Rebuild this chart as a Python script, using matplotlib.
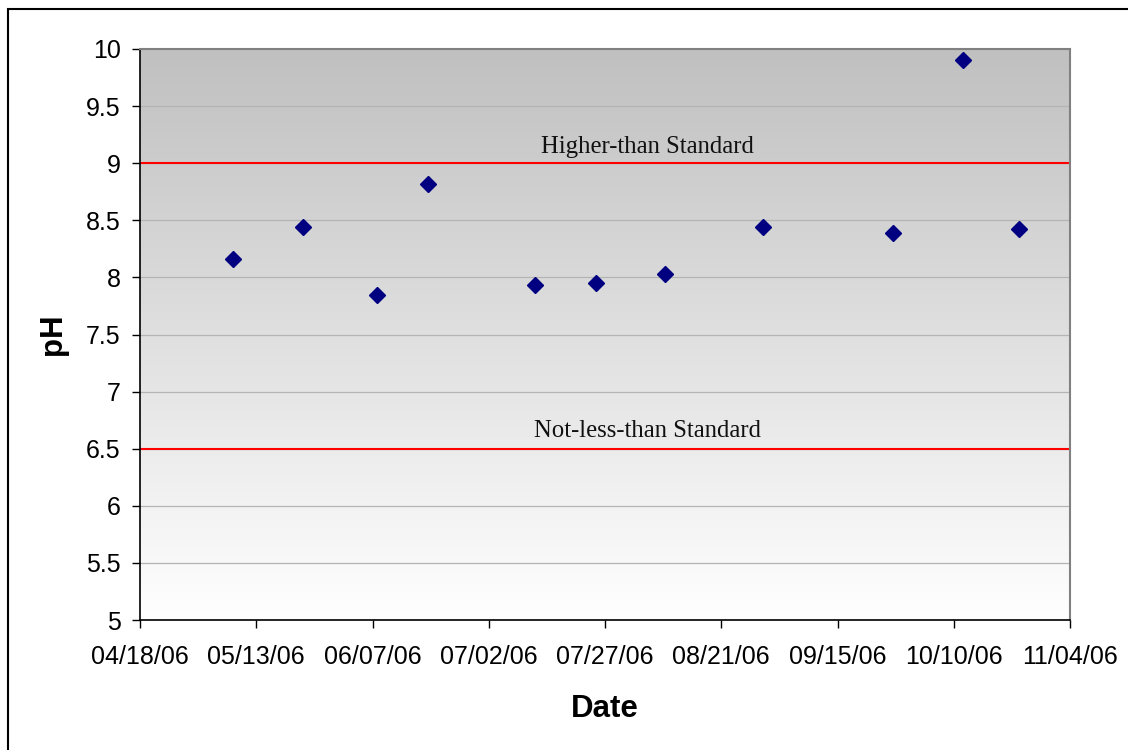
import numpy as np
import matplotlib
matplotlib.use("Agg")
import matplotlib.pyplot as plt
import matplotlib.dates as mdates
from matplotlib.patches import Rectangle
from datetime import datetime, timedelta

# Sample dates and pH readings
sample_dates = ["2006-05-08", "2006-05-23", "2006-06-08", "2006-06-19",
                "2006-07-12", "2006-07-25", "2006-08-09", "2006-08-30",
                "2006-09-27", "2006-10-12", "2006-10-24"]
ph_values = [8.16, 8.44, 7.85, 8.82, 7.93, 7.95, 8.03, 8.44, 8.39, 9.90, 8.42]

# Standards
upper_standard = 9.0
lower_standard = 6.5
upper_label = "Higher-than Standard"
lower_label = "Not-less-than Standard"

x_start = datetime(2006, 4, 18)
x_end = datetime(2006, 11, 4)
tick_step_days = 25
y_ticks = [5, 5.5, 6, 6.5, 7, 7.5, 8, 8.5, 9, 9.5, 10]

plt.rcParams['font.family'] = ['Liberation Sans', 'DejaVu Sans']

fig = plt.figure(figsize=(11.28, 7.5), dpi=100)
fig.patch.set_facecolor("white")

# Outer chart frame
fig.patches.append(Rectangle((8 / 1128, -0.05), 1.2, 1 - 9 / 750 + 0.05,
                             transform=fig.transFigure, fill=False,
                             edgecolor="black", linewidth=1.5, zorder=0))

ax = fig.add_axes([140 / 1128, 1 - 620 / 750, 930 / 1128, 571 / 750])

dates = [datetime.strptime(d, "%Y-%m-%d") for d in sample_dates]
x0 = mdates.date2num(x_start)
x1 = mdates.date2num(x_end)

# Vertical gradient: white at the bottom, gray at the top
grad = np.linspace(255, 192, 256).reshape(-1, 1) / 255.0
grad_img = np.dstack([grad, grad, grad])
ax.imshow(grad_img, extent=[x0, x1, 5, 10], origin="lower",
          aspect="auto", zorder=0, interpolation="bilinear")

# Horizontal gridlines
for yv in y_ticks:
    ax.axhline(yv, color="#b4b4b4", linewidth=0.9, zorder=1)

# Standard lines and their labels
ax.axhline(upper_standard, color="#ff0000", linewidth=1.5, zorder=2)
ax.axhline(lower_standard, color="#ff0000", linewidth=1.5, zorder=2)
ax.text(0.546, upper_standard + 0.09, upper_label, transform=ax.get_yaxis_transform(),
        ha="center", va="baseline", fontsize=17.8, family=["Liberation Serif"], color="#111111")
ax.text(0.546, lower_standard + 0.1, lower_label, transform=ax.get_yaxis_transform(),
        ha="center", va="baseline", fontsize=17.8, family=["Liberation Serif"], color="#111111")

# Data points
ax.plot(dates, ph_values, linestyle="none", marker="D", markersize=8,
        color="#000080", zorder=4)

ax.set_xlim(x0, x1)
ax.set_ylim(5, 10)
ax.set_yticks(y_ticks)
ax.set_yticklabels([f"{v:g}" for v in y_ticks])
xticks = [x_start + timedelta(days=tick_step_days * i) for i in range(9)]
ax.set_xticks([mdates.date2num(t) for t in xticks])
ax.xaxis.set_major_formatter(mdates.DateFormatter("%m/%d/%y"))

ax.tick_params(axis="both", direction="out", length=6, width=1, labelsize=18,
               colors="black")
ax.tick_params(axis="y", pad=8)
ax.tick_params(axis="x", pad=12)

for side in ("left", "bottom"):
    ax.spines[side].set_color("black")
    ax.spines[side].set_linewidth(1.2)
for side in ("top", "right"):
    ax.spines[side].set_color("#808080")
    ax.spines[side].set_linewidth(1.5)

ax.set_xlabel("Date", fontsize=22.5, fontweight="bold", labelpad=18)
ax.set_ylabel("pH", fontsize=22.5, fontweight="bold", labelpad=13)

fig.savefig("out.png", dpi=100)
